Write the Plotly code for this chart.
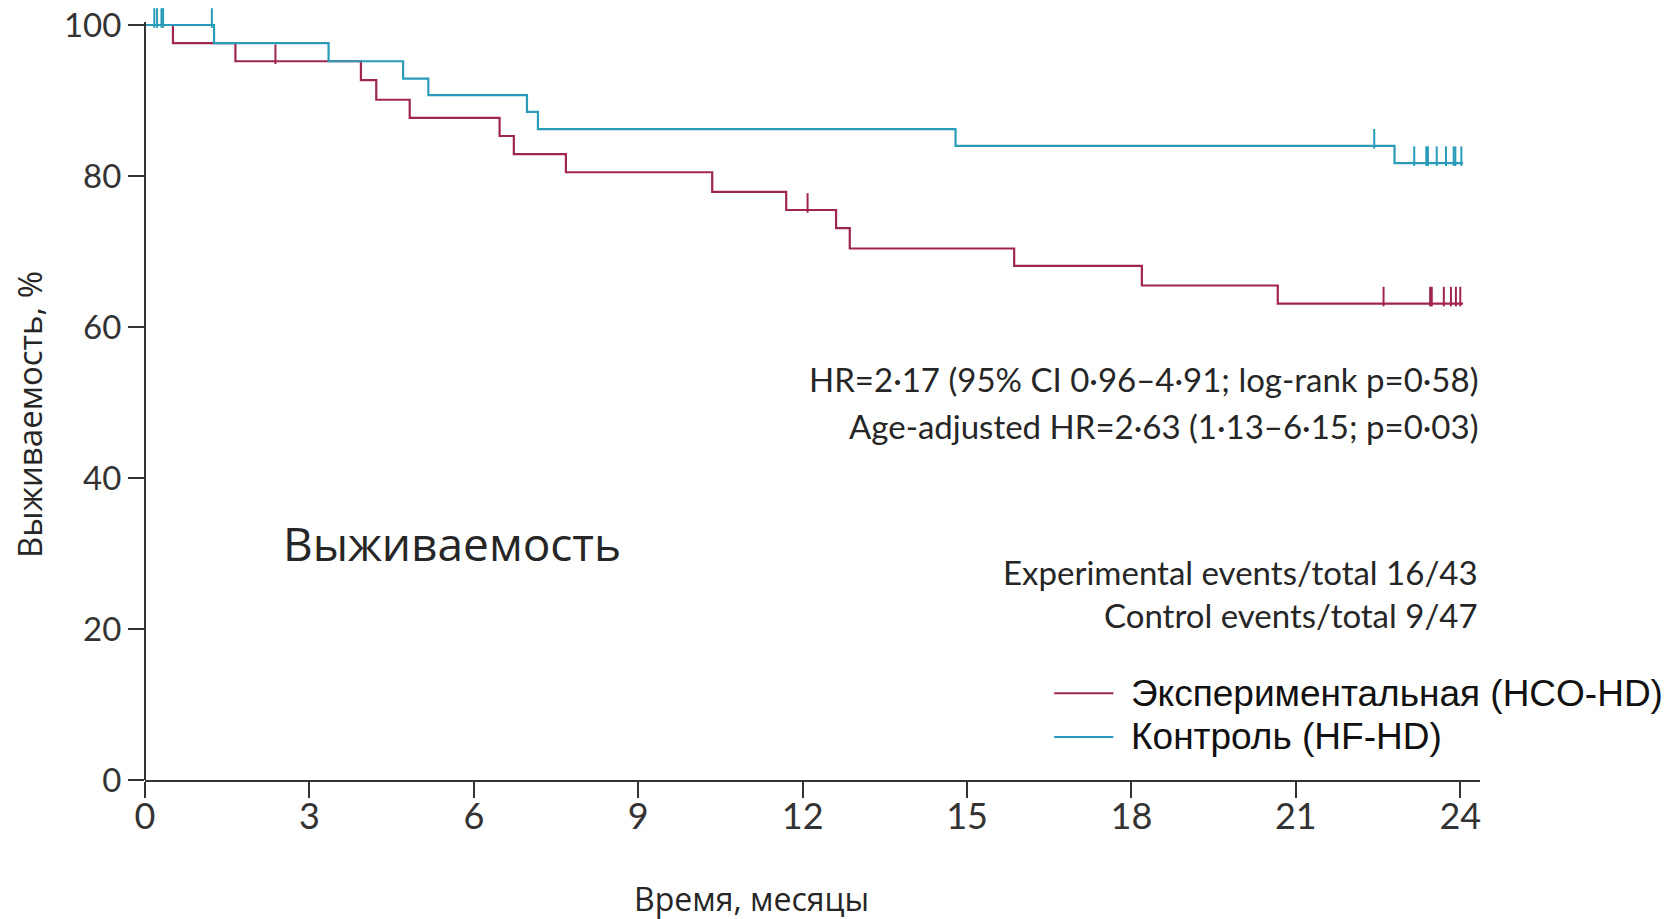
import plotly.graph_objects as go

# Kaplan-Meier survival, months vs. % alive
exp_event_months = [0.51, 1.65, 3.94, 4.22, 4.83, 6.47, 6.73, 7.68, 10.35, 11.70, 12.61, 12.86, 15.86, 18.19, 20.67]
exp_survival = [97.6, 95.2, 92.7, 90.1, 87.7, 85.3, 82.9, 80.5, 77.9, 75.5, 73.1, 70.4, 68.1, 65.5, 63.1]
exp_censored = [2.38, 12.09, 22.60, 23.45, 23.48, 23.70, 23.83, 23.92, 24.00]

ctl_event_months = [1.26, 3.35, 4.71, 5.17, 6.97, 7.17, 14.79, 22.80]
ctl_survival = [97.6, 95.2, 92.9, 90.7, 88.5, 86.2, 84.0, 81.7]
ctl_censored = [0.17, 0.22, 0.30, 0.33, 1.22, 22.43, 23.16, 23.38, 23.41, 23.57, 23.74, 23.88, 23.91, 24.02]

follow_up_end = 24.05
x_ticks = [0, 3, 6, 9, 12, 15, 18, 21, 24]
y_ticks = [0, 20, 40, 60, 80, 100]

stats_lines = [
    "HR=2·17 (95% CI 0·96–4·91; log-rank p=0·58)",
    "Age-adjusted HR=2·63 (1·13–6·15; p=0·03)",
]
count_lines = [
    "Experimental events/total 16/43",
    "Control events/total 9/47",
]
legend_names = ["Экспериментальная (HCO-HD)", "Контроль (HF-HD)"]

EXP_COLOR = "#A0264F"
CTL_COLOR = "#2A9CB9"
AXIS_COLOR = "#333333"
TEXT_COLOR = "#262626"
CENSOR_PX = 14      # censor tick length in pixels
PX_PER_PCT = 7.55   # vertical scale of the plot area
Y_TOP = 102.65      # headroom so censor ticks at 100% stay visible
Y_AXIS_TOP = 100.4  # visible extent of the vertical axis line


def step_curve(times, surv, end):
    xs, ys = [0.0], [100.0]
    for t, s in zip(times, surv):
        xs.append(t)
        ys.append(s)
    xs.append(end)
    ys.append(surv[-1])
    return xs, ys


def level_at(t, times, surv):
    level = 100.0
    for et, s in zip(times, surv):
        if et <= t:
            level = s
    return level


fig = go.Figure()

for times, surv, cens, color, name in [
    (exp_event_months, exp_survival, exp_censored, EXP_COLOR, legend_names[0]),
    (ctl_event_months, ctl_survival, ctl_censored, CTL_COLOR, legend_names[1]),
]:
    sx, sy = step_curve(times, surv, follow_up_end)
    fig.add_trace(go.Scatter(x=sx, y=sy, mode="lines", line=dict(color=color, width=2.2, shape="hv"),
                             name=name, showlegend=False, hoverinfo="skip"))
    # censor marks: vertical ticks rising from the curve
    half = CENSOR_PX / 2 / PX_PER_PCT
    cy = [level_at(c, times, surv) + half for c in cens]
    fig.add_trace(go.Scatter(x=cens, y=cy, mode="markers", cliponaxis=False,
                             marker=dict(symbol="line-ns", size=CENSOR_PX,
                                         line=dict(color=color, width=2)),
                             showlegend=False, hoverinfo="skip"))

annotations = []
stat_font = dict(family="Lato, Liberation Sans, sans-serif", size=33, color=TEXT_COLOR)
for txt, yv in zip(stats_lines, [53.1, 46.9]):
    annotations.append(dict(x=1.0, xref="paper", y=yv, yref="y", text=txt, showarrow=False,
                            xanchor="right", yanchor="middle", font=stat_font))
for txt, yv in zip(count_lines, [27.6, 21.8]):
    annotations.append(dict(x=1.0, xref="paper", y=yv, yref="y", text=txt, showarrow=False,
                            xanchor="right", yanchor="middle", font=stat_font))

annotations.append(dict(x=5.61, y=31.4, xref="x", yref="y", text="Выживаемость", showarrow=False,
                        xanchor="center", yanchor="middle",
                        font=dict(family="Open Sans, sans-serif", size=46, color=TEXT_COLOR)))

# axis titles
annotations.append(dict(x=0.454, xref="paper", y=-0.153, yref="paper", text="Время, месяцы",
                        showarrow=False, xanchor="center", yanchor="middle",
                        font=dict(family="Open Sans, sans-serif", size=32, color=TEXT_COLOR)))
annotations.append(dict(x=-0.0861, xref="paper", y=0.471, yref="paper", text="Выживаемость, %",
                        showarrow=False, xanchor="center", yanchor="middle", textangle=-90,
                        font=dict(family="Open Sans, sans-serif", size=33, color=TEXT_COLOR)))

# vertical axis line and legend
shapes = [dict(type="line", xref="paper", yref="y", x0=0, x1=0, y0=0, y1=Y_AXIS_TOP,
               line=dict(color=AXIS_COLOR, width=2))]
for name, color, yv in zip(legend_names, [EXP_COLOR, CTL_COLOR], [11.5, 5.7]):
    shapes.append(dict(type="line", xref="x", yref="y", x0=16.59, x1=17.67, y0=yv, y1=yv,
                       line=dict(color=color, width=2)))
    annotations.append(dict(x=17.96, y=yv, xref="x", yref="y", text=name, showarrow=False,
                            xanchor="left", yanchor="middle",
                            font=dict(family="Liberation Sans, Arial, sans-serif", size=37, color="#111111")))

fig.update_layout(
    width=1670, height=919,
    margin=dict(l=145, r=190, t=5, b=139, pad=0),
    paper_bgcolor="white", plot_bgcolor="white",
    showlegend=False,
    annotations=annotations,
    shapes=shapes,
    xaxis=dict(range=[0, 24.36], tickvals=x_ticks, ticktext=[str(v) for v in x_ticks],
               showline=True, linecolor=AXIS_COLOR, linewidth=2, ticks="outside", ticklen=16,
               tickwidth=2, tickcolor=AXIS_COLOR, showgrid=False, zeroline=False,
               ticklabelstandoff=-12,
               tickfont=dict(family="Lato, sans-serif", size=36, color=AXIS_COLOR)),
    yaxis=dict(range=[0, Y_TOP], tickvals=y_ticks, showline=False,
               ticks="outside", ticklen=16, tickwidth=2, tickcolor=AXIS_COLOR, showgrid=False, zeroline=False,
               tickfont=dict(family="Lato, Liberation Sans, sans-serif", size=33, color=AXIS_COLOR)),
)

fig.write_html("out.html")
